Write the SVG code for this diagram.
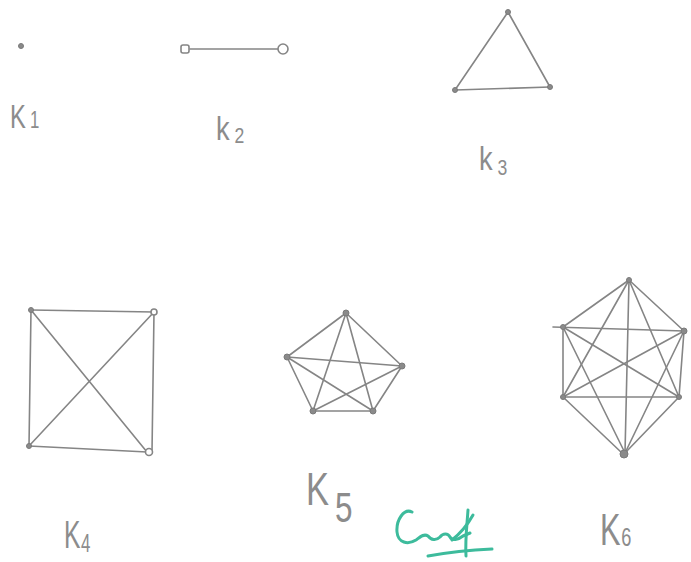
<svg xmlns="http://www.w3.org/2000/svg" width="691" height="562" viewBox="0 0 691 562">
<style>
.e{stroke:#858585;stroke-width:1.6;fill:none;stroke-linecap:round}
.n{fill:#8a8a8a;stroke:#7a7a7a;stroke-width:1}
.o{fill:#fff;stroke:#858585;stroke-width:1.6}
.t{font-family:"Liberation Sans",Arial,sans-serif;fill:#8c8c8c;font-weight:normal}
.sig{stroke:#3dbb9c;stroke-width:3;fill:none;stroke-linecap:round;stroke-linejoin:round}
</style>
<rect width="691" height="562" fill="#ffffff"/>
<g id="connectors">
<line class="e" x1="190" y1="49" x2="278" y2="49"/>
<line class="e" x1="508" y1="12" x2="455" y2="90"/>
<line class="e" x1="508" y1="12" x2="550" y2="87"/>
<line class="e" x1="455" y1="90" x2="550" y2="87"/>
<line class="e" x1="31" y1="310" x2="154" y2="312"/>
<line class="e" x1="31" y1="310" x2="29" y2="446"/>
<line class="e" x1="31" y1="310" x2="147" y2="452"/>
<line class="e" x1="154" y1="312" x2="29" y2="446"/>
<line class="e" x1="154" y1="312" x2="152" y2="452"/>
<line class="e" x1="29" y1="446" x2="147" y2="452"/>
<line class="e" x1="346" y1="313" x2="287" y2="357"/>
<line class="e" x1="346" y1="313" x2="402" y2="366"/>
<line class="e" x1="346" y1="313" x2="313" y2="411"/>
<line class="e" x1="346" y1="313" x2="373" y2="411"/>
<line class="e" x1="287" y1="357" x2="402" y2="366"/>
<line class="e" x1="287" y1="357" x2="313" y2="411"/>
<line class="e" x1="287" y1="357" x2="373" y2="411"/>
<line class="e" x1="402" y1="366" x2="313" y2="411"/>
<line class="e" x1="402" y1="366" x2="373" y2="411"/>
<line class="e" x1="313" y1="411" x2="373" y2="411"/>
<line class="e" x1="629" y1="280" x2="563" y2="327"/>
<line class="e" x1="629" y1="280" x2="684" y2="331"/>
<line class="e" x1="629" y1="280" x2="625" y2="453"/>
<line class="e" x1="629" y1="280" x2="563" y2="397"/>
<line class="e" x1="629" y1="280" x2="679" y2="397"/>
<line class="e" x1="553" y1="327" x2="684" y2="331"/>
<line class="e" x1="563" y1="327" x2="563" y2="397"/>
<line class="e" x1="563" y1="327" x2="679" y2="397"/>
<line class="e" x1="563" y1="327" x2="625" y2="453"/>
<line class="e" x1="684" y1="331" x2="679" y2="397"/>
<line class="e" x1="684" y1="331" x2="563" y2="397"/>
<line class="e" x1="684" y1="331" x2="625" y2="453"/>
<line class="e" x1="563" y1="397" x2="679" y2="397"/>
<line class="e" x1="563" y1="397" x2="622" y2="453"/>
<line class="e" x1="679" y1="397" x2="625" y2="453"/>
</g>
<g id="K1">
<circle class="n" cx="21" cy="46" r="2.5"/>
<text class="t" transform="translate(10,128) scale(0.7,1)" font-size="34">K<tspan font-size="24" dx="6">1</tspan></text>
</g>
<g id="K2">
<rect class="o" x="181" y="45" width="8" height="8" rx="2"/>
<circle class="o" cx="283" cy="49" r="5"/>
<text class="t" transform="translate(216,140) scale(0.8,1)" font-size="34">k<tspan font-size="22" dx="6" dy="3">2</tspan></text>
</g>
<g id="K3">
<circle class="n" cx="508" cy="12" r="2.5"/>
<circle class="n" cx="455" cy="90" r="2.5"/>
<circle class="n" cx="550" cy="87" r="2.5"/>
<text class="t" transform="translate(479,170) scale(0.8,1)" font-size="34">k<tspan font-size="22" dx="6" dy="5">3</tspan></text>
</g>
<g id="K4">
<circle class="n" cx="31" cy="310" r="2.5"/>
<circle class="o" cx="154" cy="312" r="3"/>
<circle class="n" cx="29" cy="446" r="2.5"/>
<circle class="o" cx="149" cy="452" r="3.5"/>
<text class="t" transform="translate(64,548) scale(0.65,1)" font-size="38">K<tspan font-size="26" dx="1" dy="4">4</tspan></text>
</g>
<g id="K5">
<circle class="n" cx="346" cy="313" r="3"/>
<circle class="n" cx="287" cy="357" r="3"/>
<circle class="n" cx="402" cy="366" r="3"/>
<circle class="n" cx="313" cy="411" r="3"/>
<circle class="n" cx="373" cy="411" r="3"/>
<text class="t" transform="translate(306,505) scale(0.75,1)" font-size="46">K<tspan font-size="42" dx="8" dy="17">5</tspan></text>
</g>
<g id="K6">
<circle class="n" cx="629" cy="280" r="2.5"/>
<circle class="n" cx="563" cy="327" r="2.5"/>
<circle class="n" cx="684" cy="331" r="3"/>
<circle class="n" cx="563" cy="397" r="2.5"/>
<circle class="n" cx="679" cy="397" r="2.5"/>
<circle class="n" cx="624" cy="454" r="4"/>
<text class="t" transform="translate(600,545) scale(0.7,1)" font-size="44">K<tspan font-size="26" dx="1" dy="1">6</tspan></text>
</g>
<g id="signature">
<path class="sig" d="M412,512 C404,508 396,520 397,532 C398,543 408,545 416,540 C420,537 424,533 428,536 C431,540 436,541 440,537 C443,533 448,533 450,537 C452,541 458,540 463,536 L470,533"/>
<path class="sig" d="M468,510 C467,525 465,540 466,556"/>
<path class="sig" d="M473,515 C468,524 462,532 452,540"/>
<path class="sig" d="M428,556 C450,552 470,550 492,549"/>
</g>
</svg>
